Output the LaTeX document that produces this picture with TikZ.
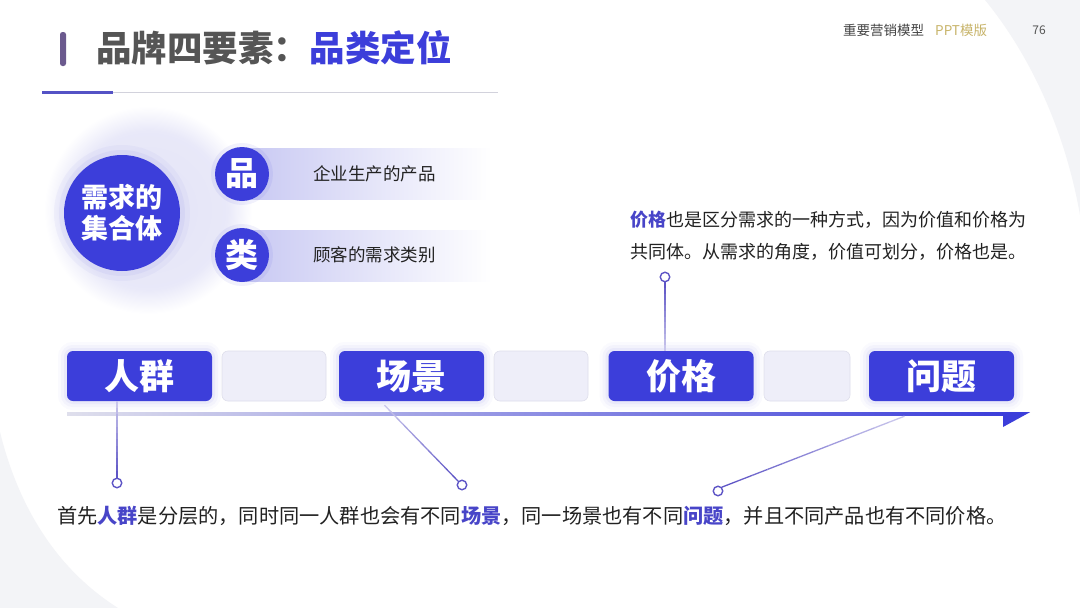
\documentclass[tikz,border=0pt]{standalone}
\usepackage{fontspec}
\setmainfont{Noto Sans CJK SC}
\usetikzlibrary{calc}
\definecolor{mblue}{HTML}{3C3EDA}
\definecolor{kblue}{HTML}{4845C8}
\definecolor{tgray}{HTML}{555555}
\definecolor{barp}{HTML}{6B5A8E}
\definecolor{lbox}{HTML}{EEEEF9}
\definecolor{lboxb}{HTML}{DFDFEC}
\definecolor{gold}{HTML}{C8B46A}
\definecolor{vio}{HTML}{5E55C6}
\definecolor{lav}{HTML}{E3E3F7}
\definecolor{bgg}{HTML}{F3F4F7}
\definecolor{txt}{HTML}{222222}
\definecolor{rule}{HTML}{D2D2DC}
\definecolor{ruleb}{HTML}{5452C5}
\pgfdeclareradialshading{halo}{\pgfpoint{0bp}{0bp}}{color(0bp)=(lav);color(19bp)=(lav!80!white);color(25bp)=(white);color(50bp)=(white)}
\newcommand\kw[1]{{\bfseries\color{kblue}#1}}
\newcommand\gline[2]{%
  \foreach \i in {0,...,11}{%
    \pgfmathsetmacro\pa{\i/12}%
    \pgfmathsetmacro\pb{(\i+1)/12}%
    \pgfmathtruncatemacro\pc{100-\i*6}%
    \draw[line width=1.3pt, color=vio!\pc!white] ($(#1)!\pa!(#2)$) -- ($(#1)!\pb!(#2)$);
  }}
\tikzset{
  bluebox/.style={rounded corners=6pt, fill=mblue, text=white, minimum width=145pt, minimum height=50pt, inner sep=0,
    font=\fontsize{35}{40}\selectfont\bfseries,
    preaction={draw=mblue, draw opacity=0.025, line width=18pt},
    preaction={draw=mblue, draw opacity=0.035, line width=12pt},
    preaction={draw=mblue, draw opacity=0.05, line width=6pt}},
  lightbox/.style={rounded corners=6pt, fill=lbox, draw=lboxb, line width=0.6pt, minimum height=50pt, inner sep=0},
  smallc/.style={circle, fill=mblue, text=white, minimum size=54pt, inner sep=0,
    font=\fontsize{33}{36}\selectfont\bfseries,
    preaction={draw=mblue, draw opacity=0.07, line width=8pt}},
  dot/.style={circle, draw=vio, fill=white, line width=1.4pt, minimum size=9.5pt, inner sep=0},
  desc/.style={anchor=west, inner sep=0, text=txt, font=\fontsize{17.5}{20}\selectfont},
}
\begin{document}
\begin{tikzpicture}[x=1pt,y=-1pt]
\useasboundingbox (0,0) rectangle (1080,608);
% background corners
\fill[white] (0,0) rectangle (1080,608);
\fill[bgg] (985,0) .. controls (1030,55) and (1065,130) .. (1080,215) -- (1080,0) -- cycle;
\fill[bgg] (0,432) .. controls (18,505) and (55,568) .. (118,608) -- (0,608) -- cycle;
% title
\fill[barp, rounded corners=2.5pt] (60,32) rectangle (66,66);
\node[anchor=west, inner sep=0, text=tgray, font=\fontsize{35.5}{40}\selectfont\bfseries] (t1) at (96,48) {品牌四要素：};
\node[anchor=west, inner sep=0, text=mblue, font=\fontsize{35.5}{40}\selectfont\bfseries] (t2) at (t1.east) {品类定位};
\draw[rule, line width=0.8pt] (42,92) -- (498,92);
\draw[ruleb, line width=3pt] (42,92) -- (113,92);
% header
\node[anchor=west, inner sep=0, text=txt!85, font=\fontsize{13.5}{16}\selectfont] (h1) at (843,30) {重要营销模型};
\node[anchor=west, inner sep=0, text=gold, font=\fontsize{13.5}{16}\selectfont] (h2) at (935,30) {PPT模版};
\node[inner sep=0, text=tgray, font=\fontsize{12}{14}\selectfont] (h3) at (1039,30) {76};
% left group
\shade[shading=halo] (148,210) circle (104);
\shade[left color=lav!80!mblue!90, right color=white] (242,148) rectangle (492,199);
\shade[left color=lav!80!mblue!90, right color=white] (242,230) rectangle (492,281);
\node[smallc] (p1) at (242,174) {品};
\node[smallc] (p2) at (242,255) {类};
\node[circle, fill=mblue, text=white, minimum size=116pt, inner sep=0, align=center,
  font=\fontsize{27}{31}\selectfont\bfseries,
  preaction={draw=mblue, draw opacity=0.04, line width=20pt},
  preaction={draw=mblue, draw opacity=0.05, line width=10pt}] (core) at (122,213) {需求的\\集合体};
\node[desc] (d1) at (313,174) {企业生产的产品};
\node[desc] (d2) at (313,255) {顾客的需求类别};
% boxes
\node[bluebox] (b1) at (139.5,376) {人群};
\node[bluebox] (b2) at (411.5,376) {场景};
\node[bluebox] (b3) at (681,376) {价格};
\node[bluebox] (b4) at (941.5,376) {问题};
\node[lightbox, minimum width=104pt] (e1) at (274,376) {};
\node[lightbox, minimum width=94pt] (e2) at (541,376) {};
\node[lightbox, minimum width=86pt] (e3) at (807,376) {};
% timeline arrow
\coordinate (ls) at (67,414);
\coordinate (le) at (1004,414);
\shade[left color=lboxb, right color=mblue] ($(ls)+(0,-1.8)$) rectangle ($(le)+(0,1.8)$);
\fill[mblue] ($(le)+(-1,-1.8)$) -- ($(le)+(26,-1.8)$) -- ($(le)+(-1,13)$) -- cycle;
% text paragraph top right
\node[desc, font=\fontsize{18}{22}\selectfont] (q1) at (630,220) {\kw{价格}也是区分需求的一种方式，因为价值和价格为};
\node[desc, font=\fontsize{18}{22}\selectfont] (q2) at (630,252) {共同体。从需求的角度，价值可划分，价格也是。};
% bottom text
\node[desc, font=\fontsize{20.2}{24}\selectfont] (s) at (57,516) {首先\kw{人群}是分层的，同时同一人群也会有不同\kw{场景}，同一场景也有不同\kw{问题}，并且不同产品也有不同价格。};
% connectors
\node[dot] (c1) at (117,483) {};
\node[dot] (c2) at (462,485) {};
\node[dot] (c3) at (718,491) {};
\node[dot] (c4) at (665,277) {};
\coordinate (a1) at (c1 |- b1.south);
\coordinate (a2) at ($(b2.south)+(-27,4)$);
\coordinate (a3) at ($(b4.south)+(-37,15)$);
\coordinate (a4) at (c4 |- b3.north);
\gline{c1.north}{a1}
\gline{c2.north west}{a2}
\gline{c3.north east}{a3}
\gline{c4.south}{a4}
\end{tikzpicture}
\end{document}
